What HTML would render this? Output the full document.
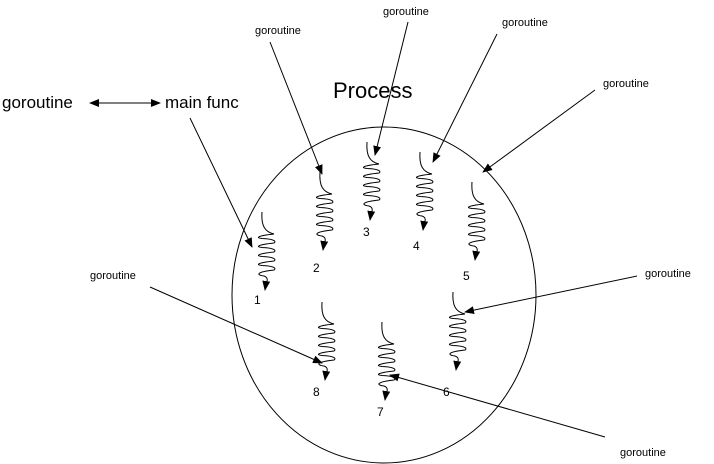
<!DOCTYPE html>
<html><head><meta charset="utf-8"><style>
html,body{margin:0;padding:0;background:#fff;}
svg{display:block;font-family:"Liberation Sans",Arial,sans-serif;}
</style></head><body>
<svg id="d" width="714" height="464" viewBox="0 0 714 464">
<defs>
<marker id="ah" markerWidth="10" markerHeight="8" refX="9" refY="4" orient="auto" markerUnits="userSpaceOnUse"><path d="M0,0 L10,4 L0,8 Z" fill="#000"/></marker>
<marker id="as" markerWidth="10" markerHeight="8" refX="1" refY="4" orient="auto" markerUnits="userSpaceOnUse"><path d="M10,0 L0,4 L10,8 Z" fill="#000"/></marker>
</defs>
<ellipse cx="384" cy="295" rx="152" ry="168" fill="none" stroke="#000" stroke-width="1"/>
<text x="333" y="98" font-size="22">Process</text>
<text x="2" y="108" font-size="17">goroutine</text>
<text x="165" y="108" font-size="17">main func</text>
<line x1="90" y1="103" x2="160" y2="103" stroke="#000" marker-start="url(#as)" marker-end="url(#ah)"/>
<g id="lab" font-size="11"></g>
<g id="arr" stroke="#000" fill="none"></g>
<g id="sq" stroke="#000" fill="none"></g>
<g id="num" font-size="12"></g>
</svg>
<script>
const NS='http://www.w3.org/2000/svg';
const squiggleTops=[[262,212],[320,172],[367,142],[420,152],[472,182],[453,292],[382,322],[322,302]];
const numberLabels=['1','2','3','4','5','6','7','8'];
const numberPos=[[254,304],[313,272],[363,236],[413,250],[463,280],[443,396],[377,416],[313,396]];
const labelPos=[[255,34],[383,15],[502,26],[603,87],[645,277],[90,279],[620,456]];
const arrowLines=[[190,118,252,247],[270,42,322,174],[408,22,375,155],[497,34,433,162],[595,90,483,172],[637,276,465,312],[150,287,322,363],[605,437,390,375]];
const sq=document.getElementById('sq'),num=document.getElementById('num'),lab=document.getElementById('lab'),arr=document.getElementById('arr');
squiggleTops.forEach(([x,y],i)=>{
  let d=`M${x},${y} C${x-1},${y+14} ${x+3},${y+20} ${x+12},${y+22}`;
  let yy=y+22;
  for(let k=0;k<4;k++){
    d+=` C${x-6},${yy+2} ${x-6},${yy+4} ${x},${yy+4.5} C${x+14},${yy+5} ${x+14},${yy+8} ${x+12},${yy+9}`;
    yy+=9;
  }
  d+=` C${x-6},${yy+2} ${x-6},${yy+5} ${x+2},${yy+6} C${x+8},${yy+8} ${x+4},${yy+13} ${x+3},${yy+20}`;
  const p=document.createElementNS(NS,'path');
  p.setAttribute('d',d);p.setAttribute('marker-end','url(#ah)');
  
  
  sq.appendChild(p);
});
numberLabels.forEach((t,i)=>{
  const e=document.createElementNS(NS,'text');
  e.setAttribute('x',numberPos[i][0]);e.setAttribute('y',numberPos[i][1]);e.textContent=t;
  
  
  num.appendChild(e);
});
labelPos.forEach(([x,y],i)=>{
  const e=document.createElementNS(NS,'text');
  e.setAttribute('x',x);e.setAttribute('y',y);e.textContent='goroutine';
  
  
  lab.appendChild(e);
});
arrowLines.forEach(([a,b,c,d2])=>{
  const l=document.createElementNS(NS,'line');
  l.setAttribute('x1',a);l.setAttribute('y1',b);l.setAttribute('x2',c);l.setAttribute('y2',d2);
  l.setAttribute('marker-end','url(#ah)');
  
  
  arr.appendChild(l);
});
</script>
</body></html>
